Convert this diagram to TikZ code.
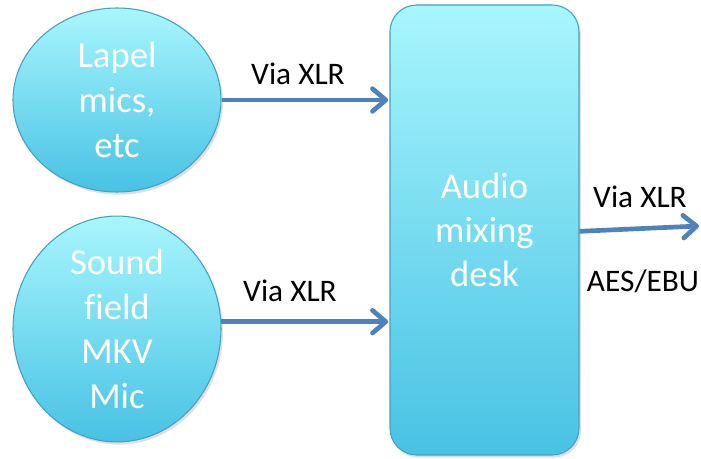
\documentclass[tikz,border=0pt]{standalone}
\usepackage{fontspec}
\setmainfont{Carlito}[Ligatures=NoCommon]
\usetikzlibrary{shapes.geometric,arrows.meta,shadows}
\definecolor{topc}{RGB}{168,246,253}
\definecolor{botc}{RGB}{72,194,228}
\definecolor{edgec}{RGB}{70,160,190}
\definecolor{arrc}{RGB}{79,129,189}
\begin{document}
\begin{tikzpicture}[x=0.75pt,y=-0.75pt,
  mic/.style={ellipse,minimum width=156pt,minimum height=138pt,inner sep=0pt,
    top color=topc,bottom color=botc,draw=edgec,line width=0.8pt,
    drop shadow={opacity=0.25,shadow xshift=1.5pt,shadow yshift=-2pt},
    text=white,align=center,font=\fontsize{27.5}{33.5}\selectfont},
  deskbox/.style={rectangle,rounded corners=20pt,minimum width=141.75pt,minimum height=337.5pt,
    inner sep=0pt,top color=topc,bottom color=botc,draw=edgec,line width=0.8pt,
    drop shadow={opacity=0.25,shadow xshift=1.5pt,shadow yshift=-2pt},
    text=white,align=center,font=\fontsize{27.5}{33}\selectfont},
  lbl/.style={font=\fontsize{23.5}{27}\selectfont,text=black,inner sep=0pt},
  arr/.style={draw=arrc,line width=3.5pt,-{Straight Barb[length=10pt,width=17pt,line width=3.5pt,round]}}
]
\useasboundingbox (0,0) rectangle (701,459);
\node[mic] (lapel) at (117,100) {Lapel\\mics,\\etc};
\node[mic] (sf) at (117,329) {Sound\\field\\MKV\\Mic};
\node[deskbox] (desk) at (484.5,230) {Audio\\mixing\\desk};
\coordinate (out) at (699,226);
\draw[arr] (lapel.east) -- ([xshift=-1pt]desk.west |- lapel.east);
\draw[arr] (sf.4.5) -- ([xshift=-1pt]desk.west |- sf.4.5);
\draw[arr] ([yshift=-1pt]desk.east) -- (out);
\node[lbl] (l1) at (298,74) {Via XLR};
\node[lbl] (l2) at (290,291) {Via XLR};
\node[lbl] (l3) at (640,197) {Via XLR};
\node[lbl] (l4) at (643,281) {AES/EBU};
\end{tikzpicture}
\end{document}
